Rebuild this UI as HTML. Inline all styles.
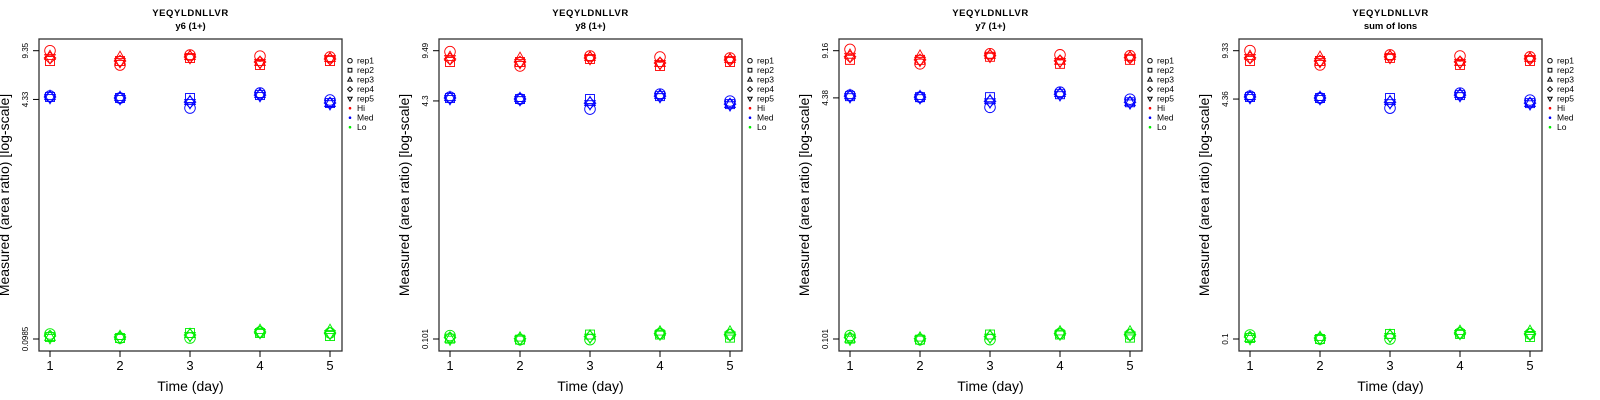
<!DOCTYPE html>
<html><head><meta charset="utf-8"><style>
html,body{margin:0;padding:0;background:#fff;}
svg{display:block;font-family:"Liberation Sans",sans-serif;}
</style></head><body>
<svg id="chart" width="1600" height="400" viewBox="0 0 1600 400" xmlns="http://www.w3.org/2000/svg"></svg>
<script>
const panelTitles = ["y6 (1+)", "y8 (1+)", "y7 (1+)", "sum of Ions"];
const peptide = "YEQYLDNLLVR";
const yTickMax = [9.35, 9.49, 9.16, 9.33];
const yTickMid = [4.33, 4.3, 4.38, 4.36];
const yTickMin = [0.0985, 0.101, 0.101, 0.1];
const days = [1, 2, 3, 4, 5];
const reps = ["rep1", "rep2", "rep3", "rep4", "rep5"];
const levels = ["Hi", "Med", "Lo"];
const hiValues = [
  [9.35, 7.94, 8.59, 8.33, 8.33],
  [7.46, 7.94, 8.46, 7.94, 7.82],
  [8.73, 8.33, 8.59, 8.46, 8.33],
  [8.59, 7.46, 7.82, 7.82, 7.69],
  [8.46, 7.94, 8.33, 8.20, 8.20]
];
const medValues = [
  [4.57, 4.50, 4.57, 4.50, 4.43],
  [4.43, 4.43, 4.50, 4.43, 4.36],
  [3.78, 4.43, 4.22, 4.15, 4.09],
  [4.79, 4.64, 4.72, 4.64, 4.57],
  [4.29, 4.09, 4.09, 4.09, 4.02]
];
const loValues = [
  [0.1066, 0.1016, 0.1016, 0.1032, 0.1000],
  [0.1000, 0.1000, 0.1032, 0.1016, 0.1000],
  [0.1000, 0.1083, 0.1066, 0.1049, 0.1032],
  [0.1100, 0.1083, 0.1135, 0.1100, 0.1083],
  [0.1083, 0.1032, 0.1135, 0.1083, 0.1066]
];
const levelValues = [hiValues, medValues, loValues];
const levelColors = ["#ff0000", "#0000ff", "#00ee00"];

const NS = "http://www.w3.org/2000/svg";
const svg = document.getElementById("chart");
function mk(tag, attrs, parent) {
  const e = document.createElementNS(NS, tag);
  for (const k in attrs) e.setAttribute(k, attrs[k]);
  (parent || svg).appendChild(e);
  return e;
}
function drawMarker(g, shape, cx, cy, s, color, sw) {
  let e;
  if (shape === 0) e = mk("circle", {cx: cx, cy: cy, r: s}, g);
  else if (shape === 1) e = mk("rect", {x: cx - s * 0.85, y: cy - s * 0.85, width: s * 1.7, height: s * 1.7}, g);
  else if (shape === 2) e = mk("polygon", {points: `${cx},${cy - s * 1.1} ${cx - s},${cy + s * 0.65} ${cx + s},${cy + s * 0.65}`}, g);
  else if (shape === 3) e = mk("polygon", {points: `${cx},${cy - s * 1.1} ${cx + s * 1.1},${cy} ${cx},${cy + s * 1.1} ${cx - s * 1.1},${cy}`}, g);
  else e = mk("polygon", {points: `${cx},${cy + s * 1.1} ${cx - s},${cy - s * 0.65} ${cx + s},${cy - s * 0.65}`}, g);
  e.setAttribute("fill", "none");
  e.setAttribute("stroke", color);
  e.setAttribute("stroke-width", sw);
  return e;
}

const plotTop = 39, plotBottom = 351, plotW = 303;
const yHi = 50.7, yLo = 339;
panelTitles.forEach((pt, p) => {
  const ox = 39 + p * 400;
  const g = mk("g", {});
  
  
  const lmin = Math.log10(yTickMin[p]), lmax = Math.log10(yTickMax[p]);
  const yScale = v => yLo - (Math.log10(v) - lmin) / (lmax - lmin) * (yLo - yHi);
  const xScale = d => ox + 11 + (d - 1) * 70;

  const t1 = mk("text", {x: ox + plotW / 2, y: 16, "text-anchor": "middle", "font-size": "9.5", "font-weight": "bold", "letter-spacing": "0.6"}, g);
  t1.textContent = peptide;
  
  
  const t2 = mk("text", {x: ox + plotW / 2, y: 29, "text-anchor": "middle", "font-size": "9.5", "font-weight": "bold"}, g);
  t2.textContent = pt;
  
  

  const box = mk("rect", {x: ox, y: plotTop, width: plotW, height: plotBottom - plotTop, fill: "none", stroke: "#333", "stroke-width": "1.3"}, g);
  
  

  days.forEach(d => {
    const x = xScale(d);
    mk("line", {x1: x, y1: plotBottom, x2: x, y2: plotBottom + 6, stroke: "#000"}, g);
    const tl = mk("text", {x: x, y: 370, "text-anchor": "middle", "font-size": "13"}, g);
    tl.textContent = d;
    
    
  });
  [yTickMax[p], yTickMid[p], yTickMin[p]].forEach(v => {
    const y = yScale(v);
    mk("line", {x1: ox, y1: y, x2: ox - 6, y2: y, stroke: "#000"}, g);
    const tl = mk("text", {x: 0, y: 0, "text-anchor": "middle", "font-size": "8", transform: `translate(${ox - 11},${y}) rotate(-90)`}, g);
    tl.textContent = v;
    
    
  });
  const xt = mk("text", {x: ox + plotW / 2, y: 391, "text-anchor": "middle", "font-size": "14"}, g);
  xt.textContent = "Time (day)";
  
  
  const yt = mk("text", {x: 0, y: 0, "text-anchor": "middle", "font-size": "14", transform: `translate(${ox - 30},${(plotTop + plotBottom) / 2}) rotate(-90)`}, g);
  yt.textContent = "Measured (area ratio) [log-scale]";
  
  

  levelValues.forEach((lv, li) => {
    lv.forEach((dayVals, di) => {
      dayVals.forEach((v, ri) => {
        const m = drawMarker(g, ri, xScale(days[di]), yScale(v), 5.3, levelColors[li], 0.9);
        
        
      });
    });
  });

  const lg = mk("g", {}, g);
  
  
  const lx = ox + 311;
  reps.forEach((r, i) => {
    const y = 60.7 + i * 9.5;
    const m = drawMarker(lg, i, lx, y, 2.2, "#000", 1);
    
    
    const t = mk("text", {x: lx + 7, y: y + 3, "font-size": "8.5"}, lg);
    t.textContent = r;
    
    
  });
  levels.forEach((l, i) => {
    const y = 60.7 + (5 + i) * 9.5;
    const c = mk("circle", {cx: lx, cy: y, r: 1.3, fill: levelColors[i]}, lg);
    
    
    const t = mk("text", {x: lx + 7, y: y + 3, "font-size": "8.5"}, lg);
    t.textContent = l;
    
    
  });
});
</script>
</body></html>
